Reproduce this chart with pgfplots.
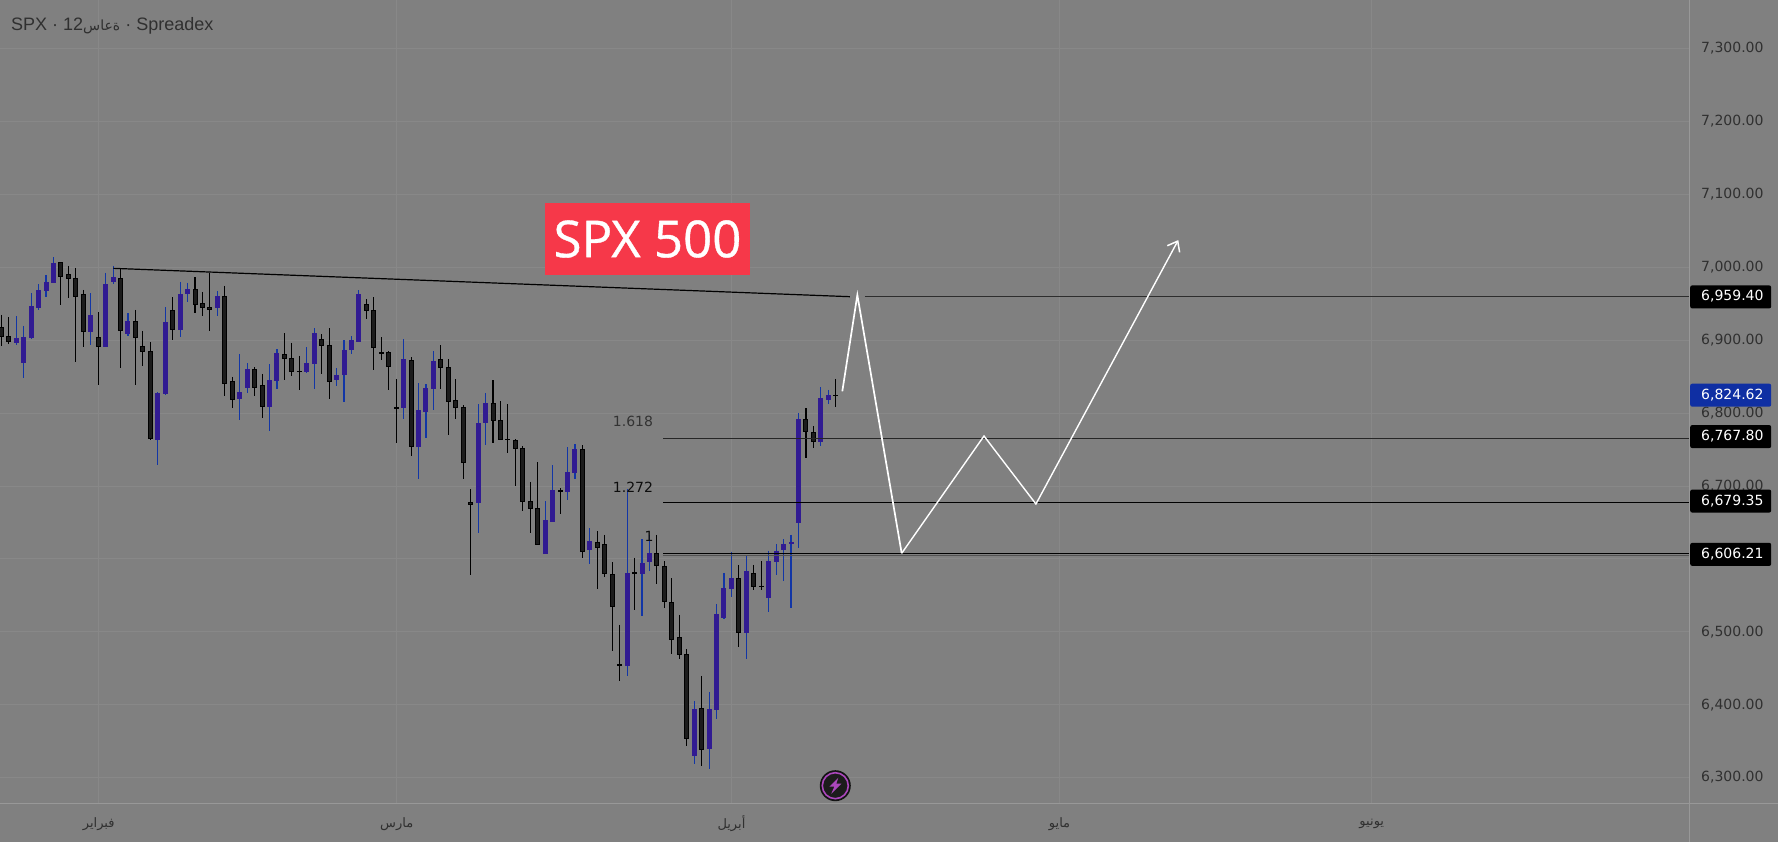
\documentclass[border=0pt]{standalone}
\usepackage{fontspec}
\usepackage{pgfplots}
\usepackage{pgfplotstable}
\usetikzlibrary{arrows.meta}
\pgfplotsset{compat=1.18}
\setmainfont{DejaVu Sans}
\newfontfamily\arfont[Script=Arabic]{DejaVu Sans}
\newfontfamily\hdfont{Liberation Sans}
\newfontfamily\spxfont[FakeBold=0.7]{Open Sans}
\TeXXeTstate=1
\definecolor{bgc}{HTML}{808080}
\definecolor{gridc}{HTML}{888888}
\definecolor{axc}{HTML}{989898}
\definecolor{txt}{HTML}{303030}
\definecolor{bluebody}{HTML}{311B92}
\definecolor{bluewick}{HTML}{1236A6}
\definecolor{blackbody}{HTML}{1C1C1C}
\definecolor{tagblue}{HTML}{0F2FA3}
\definecolor{spxred}{HTML}{F63849}
\definecolor{boltc}{HTML}{AB47BC}
\pgfplotstableread{
x hi top bot lo
0 6934.6 6917.7 6904.9 6892.1
1 6931.4 6905.3 6898.0 6894.8
8 7006.8 7006.8 6987.2 6948.8
9 7001.8 6990.4 6984.4 6957.9
10 6999.1 6984.9 6959.7 6870.1
11 6968.9 6963.0 6911.7 6890.7
13 6938.3 6904.0 6891.2 6838.6
16 6997.7 6984.9 6913.1 6861.9
18 6941.5 6925.9 6903.5 6838.6
19 6912.7 6891.6 6884.3 6864.6
20 6897.6 6884.8 6764.5 6763.1
23 6958.8 6941.0 6914.5 6900.3
26 6986.7 6969.8 6948.8 6937.3
27 6966.2 6950.6 6944.7 6933.2
28 6992.7 6945.1 6941.9 6912.7
30 6974.4 6960.2 6840.4 6823.5
31 6849.6 6843.6 6818.5 6807.0
34 6862.8 6860.1 6834.9 6823.5
35 6853.7 6838.1 6808.9 6793.3
38 6909.5 6880.6 6874.7 6845.4
39 6896.2 6875.2 6856.9 6850.9
40 6878.4 6857.3 6856.4 6831.7
43 6908.5 6901.2 6892.5 6853.6
44 6916.2 6892.9 6843.1 6819.3
49 6956.0 6949.2 6940.5 6929.0
50 6959.2 6940.9 6889.7 6859.1
51 6903.9 6883.3 6881.5 6872.8
52 6884.7 6883.3 6863.7 6831.7
53 6846.7 6807.9 6806.0 6759.0
55 6876.5 6872.3 6753.9 6741.1
59 6892.9 6873.7 6862.3 6833.0
60 6873.7 6862.7 6815.7 6769.9
61 6846.3 6817.5 6807.4 6791.9
62 6811.1 6807.9 6732.0 6709.6
63 6695.8 6677.6 6674.4 6577.9
66 6845.4 6813.4 6789.6 6759.0
67 6816.1 6790.0 6763.5 6763.1
68 6812.4 6764.4 6763.1 6745.2
69 6764.4 6762.6 6751.2 6700.0
70 6754.8 6751.6 6678.5 6665.7
71 6705.5 6678.9 6668.9 6635.5
72 6732.9 6669.3 6619.5 6619.0
75 6697.2 6694.5 6692.2 6661.6
78 6756.2 6750.3 6609.9 6601.2
80 6638.2 6623.6 6615.4 6558.7
81 6632.8 6620.0 6579.8 6575.7
82 6595.3 6578.9 6534.5 6473.7
83 6509.4 6455.4 6453.6 6432.5
85 6601.3 6581.6 6579.8 6529.9
88 6632.8 6607.7 6590.7 6565.6
89 6597.1 6589.8 6541.4 6532.7
90 6573.8 6540.4 6488.3 6469.6
91 6523.1 6492.4 6468.7 6462.7
92 6476.4 6469.1 6353.4 6343.4
94 6439.4 6395.0 6338.3 6315.9
99 6591.7 6573.4 6498.8 6479.2
101 6591.7 6580.2 6561.9 6557.4
102 6597.1 6562.9 6561.0 6557.4
108 6807.0 6791.5 6774.6 6738.4
109 6782.3 6773.6 6760.8 6752.2
112 6846.8 6824.8 6823.5 6808.4
}\blacktab
\pgfplotstableread{
x hi top bot lo
2 6933.2 6903.1 6896.6 6893.4
3 6919.5 6904.4 6869.2 6848.2
4 6964.3 6946.5 6903.1 6901.7
5 6977.1 6968.4 6944.2 6941.5
6 6989.5 6979.4 6968.0 6959.3
7 7013.7 7005.5 6979.0 6979.0
12 6964.3 6934.1 6911.7 6893.4
14 6992.2 6976.7 6890.7 6890.7
15 7001.8 6986.7 6979.9 6977.1
17 6936.9 6925.9 6908.5 6905.8
21 6828.5 6827.6 6763.1 6728.8
22 6945.1 6924.5 6826.2 6824.9
24 6979.9 6963.0 6914.0 6904.4
25 6978.5 6969.8 6963.4 6952.4
29 6967.5 6960.7 6944.2 6933.2
32 6881.1 6828.5 6819.4 6790.6
33 6868.3 6860.1 6834.5 6827.6
36 6866.9 6845.0 6808.4 6775.5
37 6887.5 6882.0 6844.5 6833.1
41 6890.6 6868.2 6856.3 6855.0
42 6916.2 6909.4 6867.8 6833.0
45 6861.8 6851.8 6845.4 6837.1
46 6900.2 6886.1 6852.2 6815.2
47 6905.7 6899.8 6886.5 6881.0
48 6968.8 6962.9 6897.5 6897.5
54 6901.6 6873.7 6807.0 6791.9
56 6840.8 6803.8 6753.5 6709.6
57 6839.4 6833.9 6801.5 6765.8
58 6884.7 6871.0 6833.0 6804.2
64 6812.4 6785.9 6676.6 6635.5
65 6827.1 6813.4 6786.4 6756.2
73 6679.4 6652.9 6606.7 6606.7
74 6728.8 6694.0 6650.6 6650.6
76 6753.5 6718.7 6691.7 6680.8
77 6757.6 6750.3 6717.8 6709.6
79 6642.3 6624.1 6612.2 6593.0
84 6695.5 6580.2 6453.1 6439.4
86 6627.3 6593.9 6579.8 6521.7
87 6632.8 6607.7 6595.8 6583.4
93 6405.1 6393.7 6330.1 6318.7
95 6417.4 6393.7 6339.3 6311.8
96 6538.2 6524.0 6393.2 6380.4
97 6580.7 6559.7 6519.0 6517.6
98 6609.5 6573.4 6558.7 6547.8
100 6604.0 6583.0 6498.8 6462.7
103 6610.9 6596.7 6546.4 6527.2
104 6620.5 6610.4 6595.8 6577.9
105 6627.3 6620.0 6612.2 6569.7
106 6632.8 6622.8 6620.9 6532.7
107 6800.2 6791.5 6649.3 6615.0
110 6835.8 6820.7 6760.8 6754.9
111 6831.7 6824.8 6818.0 6812.5
}\bluetab
\newcommand{\fs}[1]{\fontsize{#1}{#1}\selectfont}
\newcommand{\pricetag}[3]{%
  \node[fill=#1, rounded corners=2pt, minimum width=81pt, minimum height=23pt, inner sep=0pt, anchor=west, xshift=1pt] at (#2) {};
  \node[anchor=west, inner sep=0pt, text=white, xshift=12pt, yshift=0.3pt] at (#2) {\fs{14}#3};}
\begin{document}
\begin{tikzpicture}
\fill[bgc] (0pt,0pt) rectangle (1778pt,842pt);
\path[use as bounding box] (0pt,0pt) rectangle (1778pt,842pt);
\begin{axis}[
  at={(0pt,38pt)}, anchor=south west,
  width=1689pt, height=804pt, scale only axis,
  xmin=-0.1785, xmax=226.53, ymin=6263.8, ymax=7366.7,
  axis x line=bottom, axis y line=right,
  axis line style={-, color=axc, line width=1pt},
  major tick length=0pt,
  ytick={6300,6400,6500,6600,6700,6800,6900,7000,7100,7200,7300},
  xtick={13.07,53.07,98,142.04,183.95},
  xticklabels={{\arfont\beginR فبراير\endR},{\arfont\beginR مارس\endR},{\arfont\beginR أبريل\endR},{\arfont\beginR مايو\endR},{\arfont\beginR يونيو\endR}},
  grid=major,
  grid style={color=gridc, line width=1pt},
  scaled y ticks=false,
  yticklabel style={/pgf/number format/.cd, fixed, fixed zerofill, precision=2, 1000 sep={,}, assume math mode=true, /tikz/.cd, anchor=west, inner sep=0pt, xshift=12pt, text=txt, font=\fs{14}},
  xticklabel style={anchor=center, inner sep=0pt, yshift=-20pt, text=txt, font=\fs{13}},
  clip=true,
]
% wicks
\addplot[draw=none, no markers, forget plot, error bars/.cd, y dir=minus, y explicit, error mark=none, error bar style={draw=black, line width=1.1pt}]
  table[x=x, y=hi, y error minus expr=\thisrow{hi}-\thisrow{lo}] {\blacktab};
\addplot[draw=none, no markers, forget plot, error bars/.cd, y dir=minus, y explicit, error mark=none, error bar style={draw=bluewick, line width=1.1pt}]
  table[x=x, y=hi, y error minus expr=\thisrow{hi}-\thisrow{lo}] {\bluetab};
% bodies
\addplot[draw=none, no markers, forget plot, error bars/.cd, y dir=minus, y explicit, error mark=none, error bar style={draw=black, line width=5pt}]
  table[x=x, y=top, y error minus expr=\thisrow{top}-\thisrow{bot}] {\blacktab};
\addplot[draw=none, no markers, forget plot, error bars/.cd, y dir=minus, y explicit, error mark=none, error bar style={draw=blackbody, line width=3pt}]
  table[x=x, y expr=\thisrow{top}-1.3, y error minus expr={max(\thisrow{top}-\thisrow{bot}-2.6,0)}] {\blacktab};
\addplot[draw=none, no markers, forget plot, error bars/.cd, y dir=minus, y explicit, error mark=none, error bar style={draw=bluebody, line width=5pt}]
  table[x=x, y=top, y error minus expr=\thisrow{top}-\thisrow{bot}] {\bluetab};
% trend line and levels
\addplot[black, line width=1.2pt, forget plot] coordinates {(15.03,6998.6) (113.9,6959.7)};
\addplot[color=black!65!bgc, line width=1pt, forget plot] coordinates {(115.9,6959.4) (226.53,6959.4)};
\addplot[color=black!70!bgc, line width=1.2pt, forget plot] coordinates {(88.86,6765.6) (226.53,6765.6)};
\addplot[black, line width=1.2pt, forget plot] coordinates {(88.86,6677.6) (226.53,6677.6)};
\addplot[color=black!35!bgc, line width=1pt, forget plot] coordinates {(88.86,6604.5) (226.53,6604.5)};
\addplot[black, line width=1.2pt, forget plot] coordinates {(88.86,6607.1) (226.53,6607.1)};
% projected path
\addplot[white, line width=1.7pt, line join=miter, forget plot] coordinates {
  (112.88,6829.9) (114.9,6962.0) (120.85,6607.7)};
\addplot[white, line width=1.4pt, line join=miter, forget plot, -{Straight Barb[length=9pt,width=14pt,line width=1.5pt]}] coordinates {
  (120.85,6607.7) (131.9,6768.6) (138.87,6675.3) (157.98,7037.4)};
\coordinate (t1) at (axis cs:226.53,6959.4);
\coordinate (t2) at (axis cs:226.53,6824.62);
\coordinate (t3) at (axis cs:226.53,6767.8);
\coordinate (t4) at (axis cs:226.53,6679.35);
\coordinate (t5) at (axis cs:226.53,6606.21);
\coordinate (bolt) at (axis cs:111.94,6288.9);
\end{axis}
\draw[axc, line width=1pt] (1689.5pt,38pt) -- (1689.5pt,0pt);
\draw[axc, line width=1pt] (1689pt,38pt) -- (1778pt,38pt);
\pricetag{black}{t1}{6,959.40}
\pricetag{tagblue}{t2}{6,824.62}
\pricetag{black}{t3}{6,767.80}
\pricetag{black}{t4}{6,679.35}
\pricetag{black}{t5}{6,606.21}
% fib labels
\node[text=black!60!bgc, inner sep=0pt] at (633pt,420.3pt) {\fs{14}1.618};
\node[text=black!90!bgc, inner sep=0pt] at (633pt,355pt) {\fs{14}1.272};
\node[text=black!90!bgc, inner sep=0pt] at (649pt,305.3pt) {\fs{14}1};
% title block
\node[fill=spxred, minimum width=205pt, minimum height=72pt, inner sep=0pt, text=white] at (647.5pt,603pt) {\spxfont\fs{51}SPX 500};
% header
\node[anchor=base west, inner sep=0pt, text=txt] at (11pt,811.3pt) {\hdfont\fs{18}SPX · 12{\arfont\fs{14}\beginR ةعاس\endR} · Spreadex};
% badge
\fill[black!85!bgc] (bolt) circle (15.5pt);
\draw[boltc, line width=1.6pt, fill=blackbody] (bolt) circle (13pt);
\fill[boltc, shift={(bolt)}] (3pt,8pt) -- (-6pt,-1pt) -- (-1pt,-1pt) -- (-4pt,-8pt) -- (6pt,2pt) -- (1pt,2pt) -- cycle;
\end{tikzpicture}
\end{document}
